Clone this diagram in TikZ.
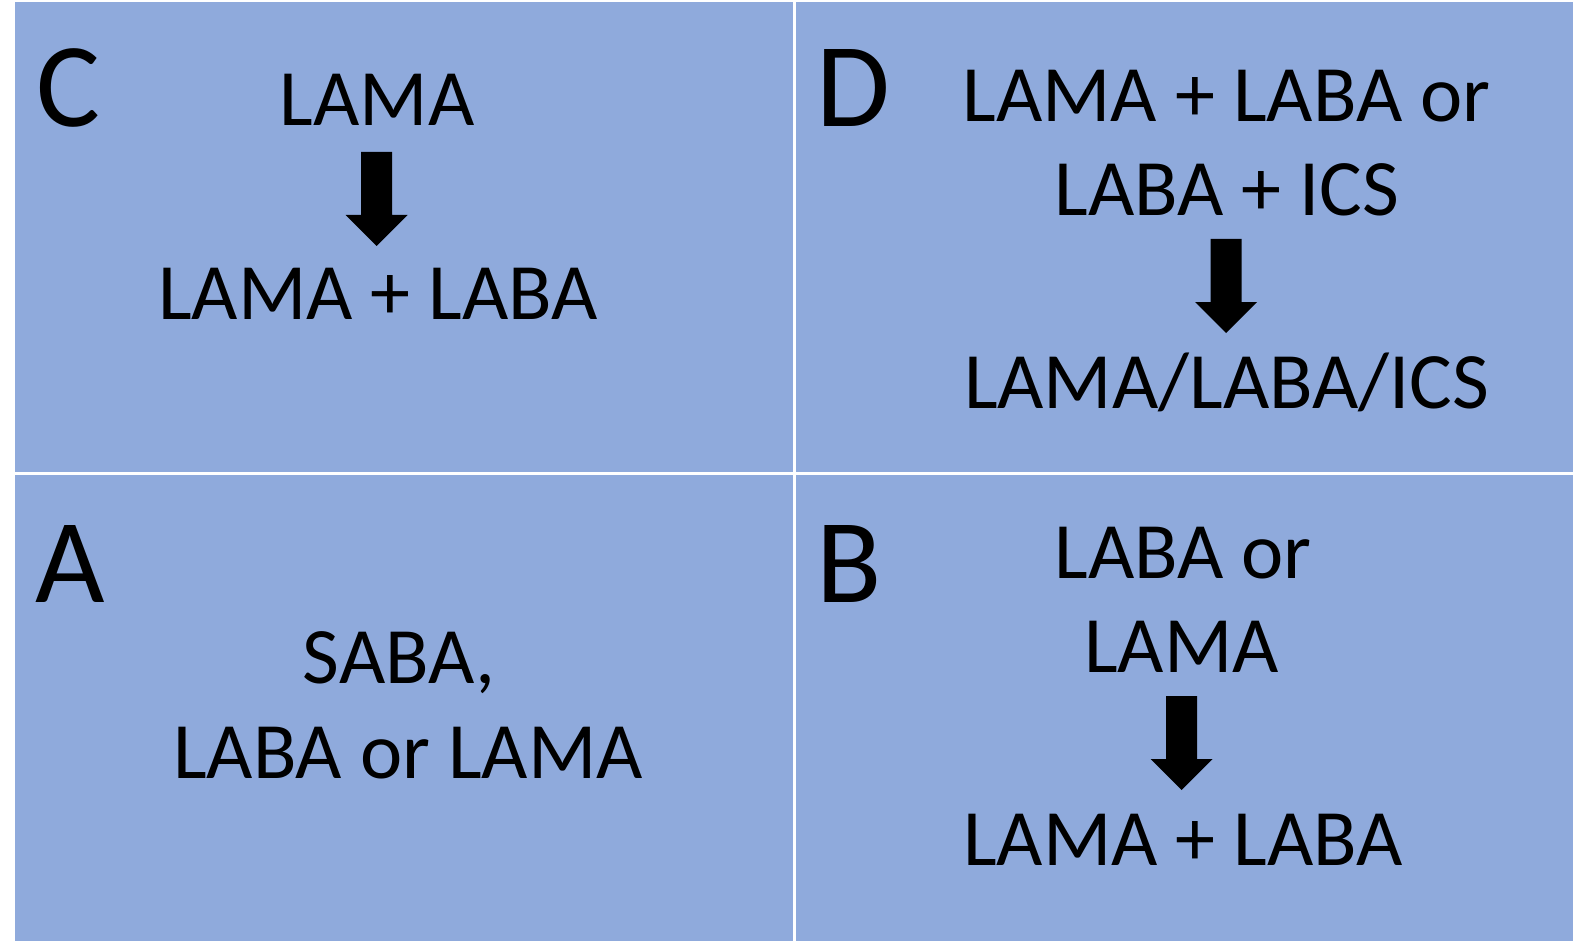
\documentclass[tikz,border=0pt]{standalone}
\usepackage{fontspec}
\setmainfont{Carlito}
\definecolor{quad}{HTML}{8FAADC}
\begin{document}
\begin{tikzpicture}[x=1pt,y=-1pt,
  quadbox/.style={fill=quad,draw=none},
  drug/.style={anchor=base,inner sep=0pt,font=\fontsize{80}{96}\selectfont},
  letter/.style={anchor=base west,inner sep=0pt,font=\fontsize{120}{144}\selectfont},
  blockarrow/.style={fill=black,draw=none}]
\useasboundingbox (0,0) rectangle (1581,941);
\fill[white] (0,0) rectangle (1581,941);
% quadrants
\path[quadbox] (15,2.3) rectangle (793,472);
\path[quadbox] (796,2.3) rectangle (1573,472);
\path[quadbox] (15,475) rectangle (793,941);
\path[quadbox] (796,475) rectangle (1573,941);
% letters
\node[letter] (lC) at (36,127) {C};
\node[letter] (lD) at (816,127) {D};
\node[letter] (lA) at (35,602) {A};
\node[letter] (lB) at (816,602) {B};
% C
\node[drug] (c1) at (377,126) {LAMA};
\node[drug] (c2) at (378,319) {LAMA + LABA};
\coordinate (cA) at (376.5,152);
% D
\node[drug] (d1) at (1226.5,122) {LAMA + LABA or};
\node[drug] (d2) at (1227,216) {LABA + ICS};
\node[drug] (d3) at (1226.5,408) {LAMA/LABA/ICS};
\coordinate (dA) at (1226,239);
% A
\node[drug] (a1) at (399,683) {SABA,};
\node[drug] (a2) at (408,778) {LABA or LAMA};
% B
\node[drug] (b1) at (1183,578) {LABA or};
\node[drug] (b2) at (1181.5,672) {LAMA};
\node[drug] (b3) at (1183,865) {LAMA + LABA};
\coordinate (bA) at (1181.5,696);
% block arrows
\foreach \p in {cA,dA,bA}{
  \fill[blockarrow] (\p) ++(-15.5,0) -- ++(31,0) -- ++(0,63) -- ++(15.5,0)
    -- ++(-31,31) -- ++(-31,-31) -- ++(15.5,0) -- cycle;
}
\end{tikzpicture}
\end{document}
